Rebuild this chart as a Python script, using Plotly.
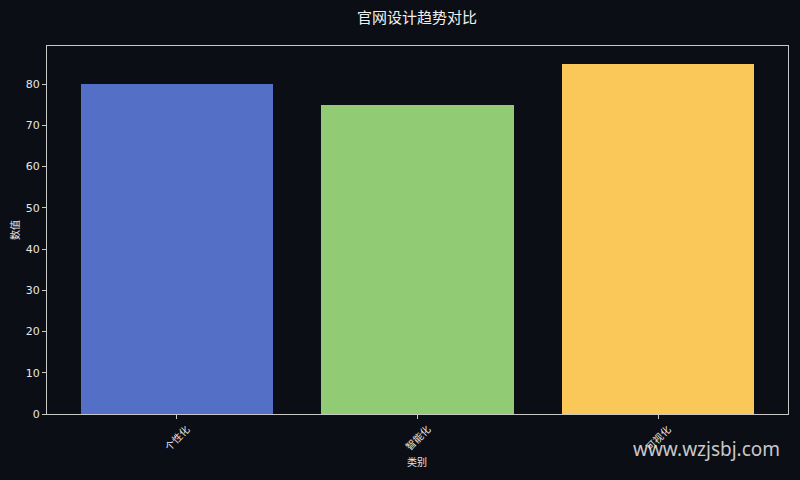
import plotly.graph_objects as go

categories = ["个性化", "智能化", "可视化"]
values = [80, 75, 85]
colors = ["#5470c6", "#91cc75", "#fac858"]
y_ticks = [0, 10, 20, 30, 40, 50, 60, 70, 80]

BG = "#0b0e14"
FG = "#e6e6e6"
FONT = "DejaVu Sans, Noto Sans CJK SC, sans-serif"

L, R, T, B = 47, 788, 46, 414
PW, PH = R - L, B - T


def px(xp):
    return (xp - L) / PW


def py(yp):
    return (B - yp) / PH


x_pos = list(range(len(categories)))

fig = go.Figure()
fig.add_trace(go.Bar(
    x=x_pos, y=values, width=0.8,
    marker=dict(color=colors, line=dict(width=0)),
    hoverinfo="skip",
))

for xp, cat in zip(x_pos, categories):
    fig.add_annotation(
        x=xp, y=0, xref="x", yref="y", text=cat, showarrow=False,
        textangle=-45, xanchor="center", yanchor="middle", yshift=-24,
        font=dict(family=FONT, size=10, color=FG),
    )

fig.add_annotation(
    x=px(417), y=py(462), xref="paper", yref="paper", text="类别", showarrow=False,
    xanchor="center", yanchor="middle",
    font=dict(family=FONT, size=10, color=FG),
)
fig.add_annotation(
    x=px(15), y=py(230), xref="paper", yref="paper", text="数值", showarrow=False,
    textangle=-90, xanchor="center", yanchor="middle",
    font=dict(family=FONT, size=10, color=FG),
)
fig.add_annotation(
    x=px(417), y=py(18), xref="paper", yref="paper",
    text="官网设计趋势对比", showarrow=False, xanchor="center", yanchor="middle",
    font=dict(family=FONT, size=15, color="#f0f0f0"),
)
fig.add_annotation(
    x=px(706), y=py(449), xref="paper", yref="paper",
    text="www.wzjsbj.com", showarrow=False, xanchor="center", yanchor="middle",
    font=dict(family="Noto Sans, DejaVu Sans, sans-serif", size=19, color="rgba(235,235,235,0.85)"),
)

fig.update_layout(
    width=800, height=480,
    paper_bgcolor=BG, plot_bgcolor=BG,
    margin=dict(l=L, r=800 - R, t=T, b=480 - B, autoexpand=False),
    showlegend=False,
    bargap=0,
    xaxis=dict(
        range=[-0.54, 2.54], tickvals=x_pos, ticktext=["", "", ""],
        showgrid=False, zeroline=False, showline=True, linecolor="#c8c8c8", linewidth=1,
        mirror=True, ticks="outside", ticklen=4, tickcolor="#c8c8c8", fixedrange=True,
    ),
    yaxis=dict(
        range=[0, 89.25], tickvals=y_ticks,
        showgrid=False, zeroline=False, showline=True, linecolor="#c8c8c8", linewidth=1,
        mirror=True, ticks="outside", ticklen=4, tickcolor="#c8c8c8",
        tickfont=dict(family=FONT, size=11, color=FG), fixedrange=True,
    ),
)

fig.write_html(
    "out.html",
    config={"displayModeBar": False},
    post_script="document.body.style.margin='0';document.body.style.background='%s';" % BG,
)
